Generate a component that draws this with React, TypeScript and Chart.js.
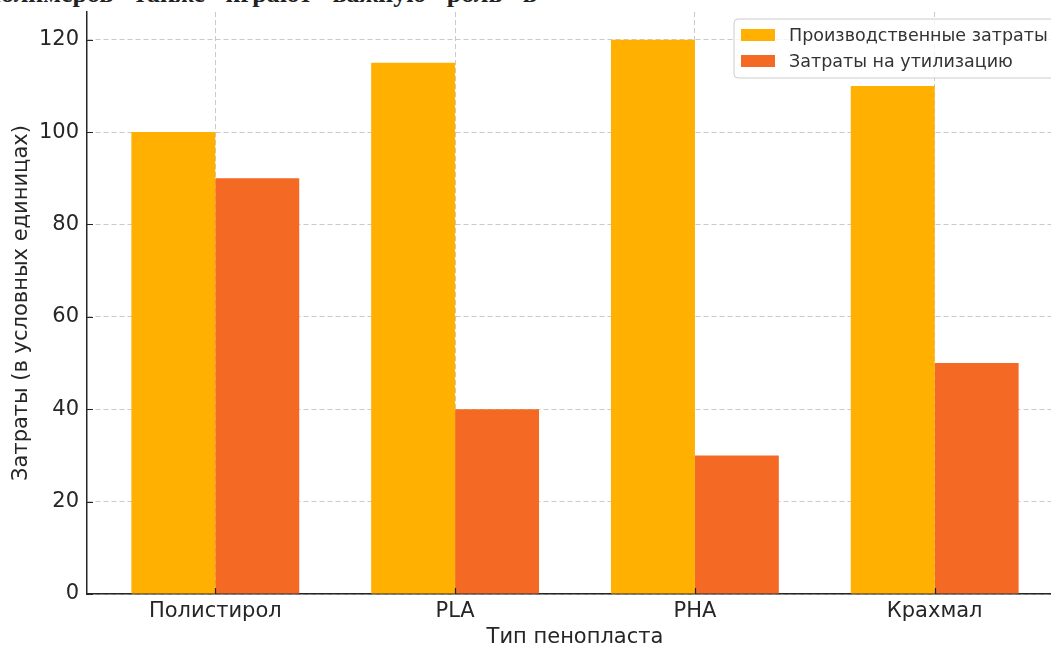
import { useEffect, useRef } from 'react';
import { Chart, registerables } from 'chart.js';

Chart.register(...registerables);

const categories = ['Полистирол', 'PLA', 'PHA', 'Крахмал'];
const productionCosts = [100, 115, 120, 110];
const disposalCosts = [90, 40, 30, 50];
const seriesLabels = ['Производственные затраты', 'Затраты на утилизацию'];
const yTicks = [0, 20, 40, 60, 80, 100, 120];

const FONT = '"DejaVu Sans", sans-serif';
const INK = '#262626';

// legend box + inward ticks, drawn like matplotlib does
const overlayPlugin = {
  id: 'overlay',
  afterDraw(chart: Chart) {
    const { ctx, chartArea, scales } = chart;
    const x = scales.x, y = scales.y;
    ctx.save();
    ctx.strokeStyle = INK;
    ctx.lineWidth = 1.2;
    ctx.beginPath();
    y.ticks.forEach((_, i) => {
      const py = Math.round(y.getPixelForTick(i)) + 0.5;
      ctx.moveTo(chartArea.left, py);
      ctx.lineTo(chartArea.left + 6, py);
    });
    x.ticks.forEach((_, i) => {
      const px = Math.round(x.getPixelForTick(i)) + 0.5;
      ctx.moveTo(px, chartArea.bottom);
      ctx.lineTo(px, chartArea.bottom - 6);
    });
    ctx.stroke();

    // legend
    const bx = 734, by = 19, bw = 322, bh = 59, r = 4;
    ctx.beginPath();
    ctx.moveTo(bx + r, by);
    ctx.arcTo(bx + bw, by, bx + bw, by + bh, r);
    ctx.arcTo(bx + bw, by + bh, bx, by + bh, r);
    ctx.arcTo(bx, by + bh, bx, by, r);
    ctx.arcTo(bx, by, bx + bw, by, r);
    ctx.closePath();
    ctx.fillStyle = 'rgba(255,255,255,0.8)';
    ctx.fill();
    ctx.strokeStyle = '#cccccc';
    ctx.lineWidth = 1;
    ctx.stroke();

    ctx.font = `17.5px ${FONT}`;
    ctx.textBaseline = 'middle';
    ctx.textAlign = 'left';
    chart.data.datasets.forEach((ds, i) => {
      const cy = 35 + i * 26;
      ctx.fillStyle = ds.backgroundColor as string;
      ctx.fillRect(741, cy - 6, 34, 12);
      ctx.fillStyle = '#333333';
      ctx.fillText(ds.label as string, 789, cy + 1);
    });
    ctx.restore();
  },
};

export default function App() {
  const canvasRef = useRef<HTMLCanvasElement>(null);

  useEffect(() => {
    if (!canvasRef.current) return;
    const gridColor = 'rgba(180,180,180,0.7)';
    const chart = new Chart(canvasRef.current, {
      type: 'bar',
      data: {
        labels: categories,
        datasets: [
          { label: seriesLabels[0], data: productionCosts, backgroundColor: '#FFB000', categoryPercentage: 0.7, barPercentage: 1 },
          { label: seriesLabels[1], data: disposalCosts, backgroundColor: '#F46A25', categoryPercentage: 0.7, barPercentage: 1 },
        ],
      },
      options: {
        responsive: false,
        animation: false,
        layout: { padding: { top: 12, right: 17, left: 0, bottom: 0 } },
        plugins: { legend: { display: false }, tooltip: { enabled: false } },
        scales: {
          x: {
            z: 1,
            grid: { color: gridColor, offset: false, drawTicks: false, lineWidth: 1 },
            border: { color: INK, width: 1.5, dash: [5, 3] },
            ticks: { color: INK, font: { family: FONT, size: 21 }, padding: 5 },
            title: { display: true, text: 'Тип пенопласта', color: INK, font: { family: FONT, size: 21 }, padding: { top: 0, bottom: 0 } },
            afterBuildTicks: (axis: any) => {
              axis._startValue = -0.535;
              axis._valueRange = categories.length - 1 + 1.07;
            },
            afterFit: (axis: any) => {
              axis.height = 56;
              axis.paddingLeft = 0;
              axis.paddingRight = 0;
            },
          },
          y: {
            z: 1,
            min: 0,
            max: 126,
            grid: { color: gridColor, drawTicks: false, lineWidth: 1 },
            border: { color: INK, width: 1.5, dash: [5, 3] },
            ticks: { color: INK, font: { family: FONT, size: 21 }, padding: 8 },
            title: { display: true, text: 'Затраты (в условных единицах)', color: INK, font: { family: FONT, size: 21 }, padding: { top: 9, bottom: 0 } },
            afterBuildTicks: (axis: any) => { axis.ticks = yTicks.map(v => ({ value: v })); },
            afterFit: (axis: any) => {
              axis.width = 87;
              axis.paddingTop = 0;
              axis.paddingBottom = 0;
            },
          },
        },
      },
      plugins: [overlayPlugin],
    });
    return () => chart.destroy();
  }, []);

  return (
    <div style={{ position: 'fixed', inset: 0, width: 1051, height: 645, overflow: 'hidden', background: '#fff' }}>
      <div style={{ position: 'absolute', left: -14, top: -19, fontFamily: '"Liberation Serif", serif', fontSize: 26, lineHeight: '26px', fontWeight: 'bold', color: '#222', whiteSpace: 'nowrap', wordSpacing: 14, letterSpacing: 0 }}>
        полимеров также играют важную роль в
      </div>
      <canvas ref={canvasRef} width={1080} height={650} style={{ position: 'absolute', left: 0, top: 0 }} />
    </div>
  );
}
